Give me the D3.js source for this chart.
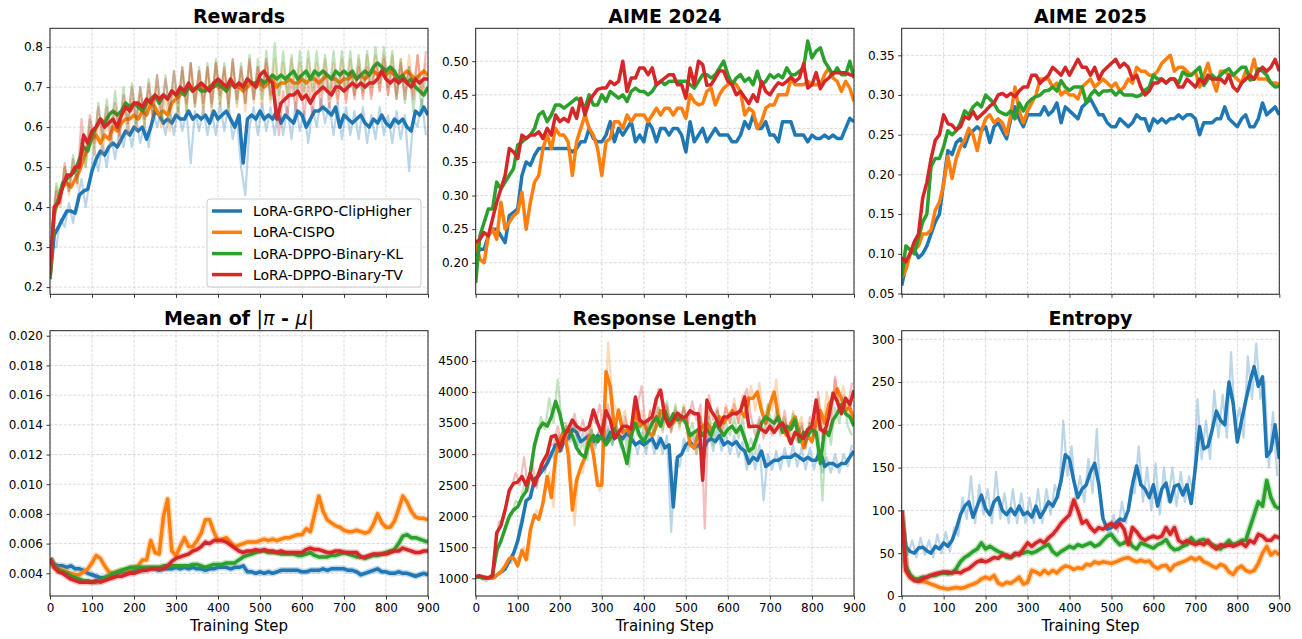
<!DOCTYPE html>
<html>
<head>
<meta charset="utf-8">
<script src="https://cdn.jsdelivr.net/npm/d3@7"></script>
<style>
  html, body { margin: 0; padding: 0; background: #fff; }
  svg { display: block; font-family: "DejaVu Sans", sans-serif; }
</style>
</head>
<body>
<div id="chart"></div>
<script>
var methods = ["LoRA-GRPO-ClipHigher", "LoRA-CISPO", "LoRA-DPPO-Binary-KL", "LoRA-DPPO-Binary-TV"];
var colors = ["#1f77b4", "#ff7f0e", "#2ca02c", "#d62728"];
var steps = d3.range(0, 901, 10);
var rawSteps = d3.range(5, 900, 10);
var xTicks = [0, 100, 200, 300, 400, 500, 600, 700, 800, 900];

// ---- Rewards (smoothed every 10 steps) ----
var rewardsClip = [0.22,0.33,0.35,0.37,0.39,0.39,0.385,0.43,0.44,0.445,
  0.49,0.52,0.54,0.53,0.55,0.56,0.55,0.57,0.59,0.58,
  0.60,0.59,0.60,0.57,0.60,0.64,0.63,0.61,0.62,0.61,
  0.63,0.62,0.62,0.64,0.62,0.63,0.62,0.63,0.61,0.64,
  0.62,0.63,0.64,0.62,0.60,0.63,0.51,0.62,0.63,0.62,
  0.64,0.62,0.63,0.62,0.64,0.61,0.63,0.62,0.61,0.64,
  0.63,0.60,0.62,0.64,0.64,0.65,0.64,0.63,0.65,0.60,
  0.63,0.62,0.61,0.62,0.63,0.61,0.60,0.62,0.61,0.63,
  0.61,0.60,0.62,0.61,0.62,0.60,0.59,0.64,0.63,0.65,0.63];
var rewardsCispo = [0.23,0.38,0.42,0.45,0.46,0.45,0.47,0.49,0.52,0.55,
  0.57,0.58,0.56,0.58,0.57,0.60,0.59,0.61,0.62,0.62,
  0.63,0.62,0.64,0.63,0.66,0.65,0.63,0.64,0.63,0.66,
  0.67,0.68,0.69,0.70,0.69,0.70,0.70,0.69,0.70,0.71,
  0.70,0.70,0.69,0.71,0.70,0.70,0.69,0.70,0.71,0.70,
  0.71,0.70,0.71,0.72,0.70,0.71,0.71,0.72,0.71,0.71,
  0.72,0.71,0.72,0.72,0.71,0.72,0.73,0.72,0.72,0.71,
  0.72,0.72,0.73,0.72,0.73,0.72,0.73,0.74,0.73,0.74,
  0.73,0.74,0.73,0.72,0.73,0.74,0.73,0.72,0.73,0.74,0.73];
var rewardsKl = [0.22,0.39,0.42,0.46,0.47,0.48,0.49,0.52,0.55,0.54,
  0.58,0.60,0.62,0.61,0.63,0.64,0.63,0.64,0.66,0.65,
  0.66,0.65,0.64,0.66,0.67,0.68,0.66,0.68,0.67,0.69,
  0.68,0.69,0.68,0.70,0.69,0.70,0.69,0.69,0.70,0.70,
  0.71,0.70,0.69,0.71,0.70,0.71,0.70,0.72,0.71,0.71,
  0.72,0.71,0.72,0.73,0.72,0.73,0.72,0.73,0.74,0.72,
  0.73,0.74,0.72,0.74,0.73,0.74,0.73,0.72,0.74,0.73,
  0.74,0.73,0.74,0.72,0.73,0.74,0.73,0.75,0.76,0.75,
  0.74,0.75,0.74,0.72,0.73,0.71,0.72,0.70,0.69,0.68,0.70];
var rewardsTv = [0.23,0.40,0.41,0.45,0.48,0.48,0.50,0.50,0.58,0.56,
  0.59,0.60,0.62,0.60,0.61,0.62,0.60,0.63,0.65,0.64,
  0.66,0.66,0.65,0.67,0.66,0.68,0.67,0.68,0.67,0.69,
  0.68,0.70,0.69,0.71,0.69,0.70,0.71,0.70,0.69,0.71,
  0.72,0.71,0.70,0.72,0.70,0.71,0.70,0.72,0.71,0.70,
  0.73,0.74,0.72,0.71,0.62,0.66,0.67,0.68,0.68,0.69,
  0.67,0.68,0.66,0.68,0.69,0.70,0.69,0.68,0.70,0.70,
  0.69,0.70,0.71,0.70,0.71,0.70,0.71,0.71,0.72,0.74,
  0.72,0.71,0.72,0.71,0.72,0.71,0.70,0.72,0.71,0.72,0.72];

// ---- Rewards (raw, steps 5..895) ----
var rewardsClipRaw = [0.30,0.30,0.37,0.35,0.41,0.36,0.42,0.47,0.40,0.47,
  0.55,0.49,0.56,0.50,0.58,0.52,0.59,0.55,0.61,0.55,
  0.62,0.56,0.61,0.55,0.64,0.60,0.64,0.58,0.64,0.58,
  0.65,0.59,0.64,0.51,0.64,0.59,0.65,0.58,0.64,0.58,
  0.66,0.59,0.66,0.57,0.62,0.50,0.43,0.60,0.65,0.58,
  0.66,0.59,0.65,0.58,0.66,0.58,0.65,0.57,0.66,0.59,
  0.64,0.56,0.65,0.60,0.67,0.61,0.66,0.58,0.66,0.57,
  0.65,0.58,0.64,0.57,0.65,0.56,0.63,0.57,0.65,0.58,
  0.63,0.56,0.64,0.57,0.63,0.49,0.62,0.60,0.67,0.58];
var rewardsCispoRaw = [0.32,0.45,0.40,0.50,0.43,0.50,0.45,0.56,0.50,0.60,
  0.53,0.62,0.53,0.62,0.55,0.64,0.56,0.66,0.58,0.67,
  0.59,0.68,0.60,0.69,0.62,0.70,0.60,0.68,0.59,0.70,
  0.63,0.74,0.64,0.76,0.65,0.74,0.63,0.75,0.64,0.76,
  0.65,0.74,0.64,0.76,0.65,0.74,0.64,0.76,0.66,0.75,
  0.65,0.76,0.66,0.77,0.66,0.76,0.67,0.77,0.66,0.76,
  0.67,0.77,0.67,0.76,0.68,0.77,0.67,0.76,0.67,0.77,
  0.67,0.77,0.68,0.77,0.68,0.78,0.68,0.78,0.69,0.78,
  0.68,0.78,0.68,0.77,0.69,0.78,0.68,0.78,0.69,0.76];
var rewardsKlRaw = [0.33,0.46,0.42,0.50,0.44,0.53,0.46,0.57,0.50,0.62,
  0.55,0.66,0.57,0.67,0.59,0.69,0.59,0.70,0.61,0.71,
  0.61,0.70,0.61,0.72,0.63,0.73,0.62,0.73,0.63,0.74,
  0.64,0.75,0.64,0.76,0.65,0.75,0.65,0.76,0.65,0.77,
  0.66,0.76,0.65,0.77,0.66,0.76,0.66,0.78,0.67,0.77,
  0.67,0.79,0.67,0.81,0.68,0.79,0.68,0.78,0.68,0.79,
  0.69,0.79,0.69,0.79,0.69,0.78,0.68,0.79,0.69,0.79,
  0.69,0.79,0.68,0.78,0.69,0.79,0.70,0.80,0.71,0.80,
  0.70,0.79,0.67,0.77,0.66,0.75,0.64,0.73,0.65,0.73];
var rewardsTvRaw = [0.35,0.44,0.41,0.51,0.44,0.52,0.46,0.62,0.53,0.63,
  0.56,0.65,0.58,0.65,0.57,0.66,0.58,0.68,0.61,0.70,
  0.62,0.70,0.62,0.71,0.63,0.73,0.64,0.72,0.64,0.74,
  0.66,0.75,0.66,0.76,0.66,0.74,0.66,0.75,0.66,0.76,
  0.68,0.75,0.66,0.77,0.67,0.75,0.66,0.77,0.67,0.75,
  0.69,0.77,0.68,0.70,0.58,0.69,0.63,0.72,0.64,0.73,
  0.63,0.71,0.63,0.73,0.65,0.74,0.65,0.73,0.66,0.74,
  0.66,0.74,0.67,0.75,0.67,0.75,0.67,0.76,0.69,0.77,
  0.68,0.75,0.67,0.76,0.67,0.75,0.67,0.78,0.68,0.79];

// ---- AIME 2024 ----
var aime24Clip = [0.21,0.22,0.22,0.24,0.25,0.25,0.24,0.23,0.27,0.275,
  0.28,0.33,0.35,0.345,0.36,0.37,0.37,0.37,0.37,0.37,
  0.37,0.37,0.37,0.365,0.37,0.38,0.38,0.40,0.385,0.38,
  0.38,0.39,0.41,0.38,0.40,0.39,0.40,0.41,0.38,0.39,
  0.38,0.41,0.40,0.38,0.40,0.40,0.39,0.40,0.40,0.39,
  0.365,0.41,0.38,0.39,0.40,0.38,0.39,0.40,0.39,0.39,
  0.39,0.38,0.38,0.39,0.41,0.40,0.42,0.40,0.40,0.41,
  0.39,0.39,0.38,0.41,0.41,0.41,0.39,0.39,0.39,0.38,
  0.39,0.385,0.385,0.39,0.385,0.39,0.385,0.385,0.40,0.415,0.41];
var aime24Cispo = [0.23,0.205,0.20,0.24,0.25,0.235,0.29,0.25,0.26,0.27,
  0.275,0.305,0.25,0.29,0.32,0.33,0.37,0.39,0.37,0.40,
  0.39,0.39,0.38,0.33,0.38,0.40,0.42,0.40,0.39,0.37,
  0.33,0.38,0.385,0.41,0.41,0.40,0.42,0.41,0.42,0.42,
  0.42,0.41,0.42,0.43,0.42,0.43,0.43,0.42,0.43,0.43,
  0.415,0.45,0.44,0.435,0.437,0.455,0.46,0.435,0.45,0.46,
  0.465,0.47,0.465,0.455,0.42,0.43,0.425,0.40,0.41,0.43,
  0.435,0.435,0.45,0.45,0.45,0.474,0.465,0.465,0.465,0.47,
  0.465,0.465,0.465,0.48,0.49,0.475,0.47,0.455,0.47,0.46,0.44];
var aime24Kl = [0.17,0.24,0.26,0.28,0.28,0.32,0.31,0.32,0.33,0.34,
  0.375,0.38,0.385,0.39,0.40,0.42,0.425,0.41,0.42,0.435,
  0.435,0.43,0.435,0.44,0.445,0.44,0.43,0.45,0.435,0.435,
  0.45,0.44,0.455,0.45,0.445,0.45,0.44,0.455,0.46,0.455,
  0.455,0.45,0.455,0.465,0.47,0.465,0.47,0.47,0.47,0.47,
  0.47,0.465,0.46,0.47,0.48,0.48,0.475,0.48,0.49,0.50,
  0.48,0.465,0.475,0.48,0.47,0.475,0.465,0.485,0.465,0.47,
  0.48,0.475,0.48,0.475,0.49,0.48,0.48,0.485,0.49,0.53,
  0.505,0.515,0.52,0.50,0.49,0.48,0.49,0.48,0.48,0.50,0.475];
var aime24Tv = [0.23,0.235,0.245,0.24,0.265,0.29,0.31,0.33,0.37,0.365,
  0.355,0.39,0.385,0.39,0.39,0.395,0.385,0.40,0.39,0.42,
  0.41,0.415,0.41,0.43,0.415,0.445,0.42,0.44,0.45,0.458,
  0.46,0.46,0.47,0.465,0.47,0.50,0.455,0.475,0.475,0.49,
  0.49,0.48,0.49,0.465,0.47,0.475,0.48,0.48,0.465,0.465,
  0.445,0.49,0.465,0.50,0.495,0.464,0.465,0.475,0.486,0.485,
  0.47,0.465,0.45,0.455,0.446,0.437,0.45,0.44,0.47,0.455,
  0.45,0.46,0.468,0.465,0.47,0.476,0.47,0.475,0.496,0.46,
  0.465,0.483,0.459,0.47,0.475,0.483,0.483,0.483,0.483,0.48,0.479];

// ---- AIME 2025 ----
var aime25Clip = [0.06,0.085,0.10,0.105,0.095,0.10,0.11,0.125,0.14,0.15,
  0.19,0.23,0.225,0.24,0.245,0.235,0.25,0.255,0.26,0.255,
  0.26,0.24,0.26,0.265,0.255,0.245,0.27,0.285,0.27,0.26,
  0.275,0.275,0.275,0.275,0.285,0.275,0.28,0.29,0.265,0.285,
  0.28,0.275,0.27,0.285,0.29,0.295,0.285,0.275,0.275,0.265,
  0.26,0.26,0.27,0.265,0.26,0.265,0.275,0.27,0.27,0.255,
  0.27,0.265,0.27,0.265,0.27,0.27,0.275,0.27,0.275,0.275,
  0.27,0.25,0.265,0.265,0.265,0.27,0.27,0.285,0.27,0.265,
  0.26,0.27,0.275,0.26,0.26,0.27,0.29,0.275,0.28,0.285,0.275];
var aime25Cispo = [0.07,0.08,0.10,0.105,0.11,0.125,0.125,0.13,0.155,0.165,
  0.187,0.223,0.195,0.22,0.235,0.243,0.258,0.25,0.23,0.255,
  0.27,0.275,0.265,0.27,0.265,0.25,0.275,0.31,0.28,0.265,
  0.28,0.29,0.30,0.32,0.32,0.32,0.31,0.315,0.30,0.305,
  0.30,0.30,0.295,0.31,0.315,0.32,0.31,0.315,0.32,0.315,
  0.31,0.315,0.305,0.31,0.32,0.315,0.335,0.33,0.33,0.325,
  0.325,0.33,0.34,0.345,0.35,0.33,0.335,0.335,0.33,0.325,
  0.33,0.31,0.325,0.34,0.32,0.305,0.33,0.33,0.325,0.325,
  0.32,0.315,0.33,0.325,0.345,0.32,0.32,0.32,0.315,0.315,0.314];
var aime25Kl = [0.07,0.11,0.105,0.10,0.12,0.14,0.15,0.21,0.22,0.22,
  0.235,0.255,0.25,0.255,0.265,0.28,0.275,0.285,0.29,0.285,
  0.30,0.295,0.289,0.28,0.277,0.275,0.28,0.27,0.29,0.28,
  0.29,0.295,0.298,0.30,0.305,0.306,0.31,0.305,0.318,0.31,
  0.306,0.31,0.31,0.31,0.29,0.30,0.306,0.30,0.305,0.305,
  0.306,0.30,0.305,0.30,0.30,0.30,0.298,0.30,0.306,0.31,
  0.325,0.32,0.32,0.315,0.32,0.32,0.315,0.329,0.325,0.325,
  0.33,0.335,0.312,0.32,0.325,0.32,0.325,0.33,0.333,0.325,
  0.33,0.335,0.335,0.319,0.32,0.333,0.33,0.325,0.315,0.31,0.311];
var aime25Tv = [0.095,0.09,0.10,0.115,0.125,0.17,0.19,0.22,0.243,0.25,
  0.275,0.264,0.262,0.256,0.26,0.273,0.27,0.279,0.27,0.275,
  0.28,0.286,0.29,0.30,0.302,0.298,0.302,0.298,0.305,0.31,
  0.31,0.325,0.325,0.315,0.32,0.325,0.335,0.33,0.325,0.335,
  0.325,0.335,0.345,0.335,0.335,0.325,0.335,0.32,0.33,0.335,
  0.34,0.345,0.335,0.34,0.335,0.32,0.325,0.31,0.30,0.305,
  0.315,0.315,0.32,0.315,0.32,0.32,0.31,0.31,0.32,0.315,
  0.31,0.32,0.315,0.325,0.32,0.32,0.32,0.315,0.325,0.31,
  0.305,0.315,0.32,0.325,0.32,0.33,0.335,0.33,0.335,0.345,0.33];

// ---- Mean of |pi - mu| ----
var gapClip = [0.0050,0.0046,0.0045,0.0045,0.0044,0.0045,0.0043,0.0043,0.0042,0.0040,
  0.0039,0.0038,0.0037,0.0037,0.0038,0.0039,0.0040,0.0041,0.0041,0.0042,
  0.0042,0.0042,0.0042,0.0043,0.0043,0.0043,0.0042,0.0043,0.0043,0.0043,
  0.0044,0.0043,0.0044,0.0043,0.0044,0.0043,0.0043,0.0042,0.0043,0.0043,
  0.0044,0.0044,0.0044,0.0043,0.0044,0.0044,0.0045,0.0041,0.0041,0.0040,
  0.0041,0.0040,0.0041,0.0040,0.0041,0.0042,0.0042,0.0042,0.0042,0.0042,
  0.0041,0.0041,0.0042,0.0042,0.0042,0.0043,0.0042,0.0043,0.0043,0.0043,
  0.0043,0.0042,0.0042,0.0041,0.0039,0.0040,0.0041,0.0042,0.0043,0.0041,
  0.0041,0.0040,0.0040,0.0041,0.0040,0.0040,0.0039,0.0038,0.0039,0.0040,0.0039];
var gapCispo = [0.0050,0.0044,0.0043,0.0042,0.0041,0.0040,0.0039,0.0039,0.0041,0.0043,
  0.0047,0.0052,0.0050,0.0045,0.0041,0.0040,0.0041,0.0042,0.0042,0.0043,
  0.0044,0.0045,0.0049,0.0049,0.0062,0.0054,0.0053,0.0078,0.0090,0.0055,
  0.0052,0.0058,0.0064,0.0058,0.0058,0.0062,0.0067,0.0076,0.0076,0.0068,
  0.0062,0.0063,0.0064,0.0061,0.0058,0.0059,0.0060,0.0061,0.0061,0.0061,
  0.0062,0.0063,0.0062,0.0063,0.0062,0.0063,0.0064,0.0064,0.0065,0.0066,
  0.0066,0.0070,0.0068,0.0080,0.0092,0.0082,0.0076,0.0074,0.0072,0.0071,
  0.0069,0.0068,0.0068,0.0069,0.0068,0.0067,0.0068,0.0073,0.0080,0.0074,
  0.0071,0.0071,0.0075,0.0083,0.0092,0.0088,0.0082,0.0078,0.0077,0.0077,0.0076];
var gapKl = [0.0050,0.0045,0.0042,0.0041,0.0040,0.0038,0.0037,0.0036,0.0035,0.0035,
  0.0034,0.0034,0.0035,0.0037,0.0038,0.0040,0.0041,0.0042,0.0043,0.0044,
  0.0044,0.0044,0.0044,0.0044,0.0044,0.0044,0.0044,0.0045,0.0045,0.0045,
  0.0045,0.0045,0.0045,0.0045,0.0046,0.0046,0.0045,0.0044,0.0045,0.0046,
  0.0046,0.0046,0.0047,0.0047,0.0047,0.0049,0.0051,0.0052,0.0053,0.0054,
  0.0055,0.0055,0.0054,0.0054,0.0054,0.0053,0.0053,0.0053,0.0053,0.0052,
  0.0052,0.0053,0.0054,0.0052,0.0051,0.0051,0.0051,0.0052,0.0052,0.0053,
  0.0054,0.0053,0.0052,0.0051,0.0051,0.0050,0.0051,0.0052,0.0052,0.0053,
  0.0054,0.0055,0.0056,0.0060,0.0065,0.0066,0.0064,0.0064,0.0063,0.0062,0.0061];
var gapTv = [0.0050,0.0044,0.0041,0.0040,0.0038,0.0036,0.0035,0.0034,0.0034,0.0034,
  0.0034,0.0035,0.0034,0.0035,0.0036,0.0037,0.0038,0.0038,0.0039,0.0040,
  0.0040,0.0041,0.0042,0.0042,0.0043,0.0043,0.0043,0.0043,0.0045,0.0048,
  0.0050,0.0051,0.0052,0.0053,0.0055,0.0056,0.0058,0.0061,0.0060,0.0062,
  0.0062,0.0062,0.0061,0.0059,0.0057,0.0055,0.0054,0.0055,0.0055,0.0056,
  0.0055,0.0056,0.0055,0.0055,0.0054,0.0055,0.0054,0.0054,0.0054,0.0054,
  0.0054,0.0056,0.0057,0.0056,0.0056,0.0055,0.0054,0.0054,0.0055,0.0055,
  0.0054,0.0054,0.0054,0.0054,0.0051,0.0051,0.0052,0.0053,0.0053,0.0053,
  0.0053,0.0054,0.0055,0.0055,0.0057,0.0056,0.0055,0.0054,0.0054,0.0055,0.0055];

// ---- Response Length ----
var lengthClip = [1020,1030,1000,1000,1000,1050,1100,1150,1280,1400,
  1600,1900,2250,2300,2600,2650,2750,2850,3000,3150,
  3050,3200,3250,3400,3350,3200,3250,3300,3200,3300,
  3250,3200,3350,3250,3300,3250,3350,3250,3150,3200,
  3150,3200,3250,3100,3250,3100,3150,2150,2950,3000,
  3150,3200,3100,3150,3050,3200,3250,3200,3300,3150,
  3200,3150,3200,3100,3050,2850,2950,2900,3050,2800,
  2850,2900,2900,2950,2950,2950,3000,2950,2900,2950,
  2900,2900,3050,2800,2850,2850,2800,2850,2850,2950,3050];
var lengthCispo = [1020,1020,1000,1000,1000,1050,1100,1200,1320,1330,
  1200,1450,1300,1780,2020,1950,2210,2640,2300,2960,
  3230,3390,3000,2100,2580,2790,2950,3300,3000,2500,
  2500,4330,4090,3400,3710,3350,3400,3300,3700,3450,
  3500,3350,3300,3450,3700,3600,3450,3500,3600,3550,
  3600,3150,3100,3350,3450,3500,3400,3450,3600,3500,
  3600,3700,3650,3700,3600,3900,3900,4000,3700,3500,
  3800,4000,3600,3400,3300,3500,3600,3350,3100,3300,
  3200,3500,3700,3500,3800,3900,4050,3900,3700,3750,3550];
var lengthKl = [1020,1020,1000,1000,1050,1450,1600,1800,2000,2100,
  2150,2300,2400,2700,3150,3400,3500,3450,3600,3850,
  3650,3350,3400,3300,3100,3000,2950,3200,3300,3200,
  3300,3150,3250,3400,3300,3100,2850,3300,3500,3300,
  3200,3350,3500,3600,3450,3700,3500,3650,3550,3600,
  3500,3300,3350,3400,3300,3400,3300,3500,3400,3300,
  3400,3450,3350,3450,3250,3050,3100,3300,3500,3600,
  3550,3500,3600,3350,3450,3400,3550,3200,3350,3300,
  3400,3350,2850,3400,3300,3550,3650,3800,3650,3600,3450];
var lengthTv = [1030,1040,1020,1010,1030,1730,1850,2100,2420,2530,
  2550,2640,2500,2690,2500,2700,2880,3000,3280,3300,
  3100,3280,3400,3550,3450,3400,3390,3450,3710,3500,
  3330,3700,3550,3250,3350,3450,3450,3400,3920,3550,
  3500,3550,3600,3900,4030,3600,3450,3550,3660,3600,
  3600,3700,3650,3650,2580,3870,3700,3600,3450,3600,
  3600,3650,3650,3700,3920,3440,3450,3450,3400,3350,
  3450,3350,3450,3500,3350,3170,3350,3300,3250,3400,
  3450,3870,3400,3350,3600,3980,3850,3650,3900,3800,4030];

var lengthClipRaw = [1050,1000,950,1020,1000,1080,1100,1250,1250,1500,
  1850,2100,2300,2450,2500,2850,2700,3050,2950,3300,
  3050,3350,3200,3500,3150,3350,3100,3400,3100,3400,
  3100,3450,3150,3400,3100,3450,3100,3300,3000,3350,
  3000,3350,3000,3300,3000,3300,1750,2900,2800,3250,
  3050,3350,3000,3250,2950,3350,3050,3400,3050,3350,
  3000,3300,2950,3200,2750,3100,2750,3150,2250,3000,
  2750,3050,2750,3100,2800,3150,2800,3100,2750,3100,
  2750,3100,2700,2950,2700,3000,2700,3000,2800,3150];
var lengthCispoRaw = [1000,1050,980,1050,1000,1100,1150,1250,1350,1300,
  1350,1500,1300,1900,2100,2000,2400,2700,2150,3100,
  3300,3450,2900,1850,2700,2700,3100,3500,2800,2400,
  3000,4800,3900,3700,3500,3700,3200,3600,3500,3700,
  3300,3700,3300,3750,3400,3800,3350,3750,3400,3800,
  3300,3350,3000,3600,3300,3700,3300,3700,3350,3800,
  3500,3900,3500,3950,3550,4100,3700,4150,3500,3800,
  3700,4200,3500,3600,3200,3700,3400,3600,3100,3500,
  3300,3900,3400,4000,3650,4200,3800,4100,3600,3800];
var lengthKlRaw = [1050,980,1020,1000,1200,1500,1700,1950,2000,2250,
  2200,2500,2500,3000,3200,3600,3400,3900,3500,4200,
  3500,3500,3250,3450,3000,3200,2900,3400,3150,3450,
  3200,3400,3150,3500,3150,3300,2800,3500,3300,3500,
  3100,3550,3300,3750,3350,3850,3400,3800,3450,3750,
  3300,3500,3200,3600,3200,3600,3150,3700,3250,3500,
  3300,3600,3250,3600,3050,3250,3000,3550,3350,3800,
  3400,3700,3400,3550,3250,3650,3300,3450,3150,3500,
  3250,3450,2250,3550,3150,3750,3500,3950,3450,3300];
var lengthTvRaw = [1050,1000,1020,1000,1300,1900,1950,2300,2450,2700,
  2500,2950,2400,2850,2450,2850,2750,3150,3150,3450,
  3050,3450,3300,3650,3300,3550,3250,3600,3500,3800,
  3200,3800,3400,3450,3250,3600,3300,3600,3800,4100,
  3350,3700,3450,4050,3850,3750,3350,3700,3500,3750,
  3500,3850,3550,3800,1800,3950,3550,3750,3350,3750,
  3500,3800,3500,3850,4050,3600,3300,3600,3250,3550,
  3300,3600,3300,3700,3200,3350,3200,3500,3100,3600,
  3300,4000,3250,3500,3450,4250,3700,3850,3750,4150];

// ---- Entropy ----
var entropyClip = [100,58,52,50,56,57,53,50,58,55,
  62,58,65,78,95,105,110,92,105,118,
  102,95,110,115,100,95,102,95,105,95,
  98,92,105,92,100,110,105,115,135,165,
  160,135,115,125,130,145,155,130,90,78,
  80,85,90,88,100,130,152,130,125,115,
  130,105,125,132,110,128,130,118,130,108,
  150,198,172,175,194,216,205,200,250,225,
  180,205,228,250,268,245,256,163,170,200,160];
var entropyCispo = [95,30,22,20,18,17,16,14,12,10,
  9,8,9,10,9,10,12,14,16,20,
  22,20,24,15,13,16,15,18,22,14,
  16,30,28,25,30,26,30,27,32,35,
  34,31,33,32,37,36,40,38,40,39,
  38,40,42,44,45,42,40,42,40,41,
  35,32,35,36,30,36,38,40,42,45,
  42,45,40,38,35,33,37,35,28,25,
  32,35,30,28,30,38,50,58,48,52,48];
var entropyKl = [100,35,25,20,20,22,22,24,24,26,
  27,26,27,32,40,45,48,52,55,62,
  55,58,55,52,50,45,45,48,50,50,
  52,50,52,55,58,60,52,48,52,55,
  58,56,60,58,60,62,58,60,65,70,
  72,65,60,62,66,58,55,62,60,58,
  56,60,62,66,58,54,55,58,60,68,
  62,65,66,62,60,58,55,60,65,60,
  62,65,65,80,95,110,105,135,115,105,102];
var entropyTv = [100,30,22,18,17,20,22,24,26,27,
  28,28,27,28,27,30,32,36,40,42,
  40,42,45,44,48,48,45,50,48,55,
  62,58,62,65,62,68,72,78,85,90,
  95,112,100,85,88,80,75,80,78,82,
  85,80,85,78,60,80,75,68,65,68,
  70,68,70,80,72,80,65,62,65,62,
  60,62,60,65,58,55,60,58,60,58,
  60,62,58,65,62,72,70,65,65,70,68];
var entropyClipRaw = [80,48,65,45,68,48,65,45,72,50,
  75,52,80,70,115,90,140,85,130,95,
  125,85,145,90,120,85,125,85,120,85,
  115,85,125,85,125,95,130,115,205,140,
  175,110,140,110,160,120,195,95,85,70,
  95,75,110,85,125,120,175,110,150,100,
  155,95,150,110,150,105,145,110,140,120,
  230,160,205,160,240,185,235,185,285,195,
  220,185,280,230,295,230,250,150,215,140];

var rewardsTicks = [0.2, 0.3, 0.4, 0.5, 0.6, 0.7, 0.8];
var aime24Ticks = [0.20, 0.25, 0.30, 0.35, 0.40, 0.45, 0.50];
var aime25Ticks = [0.05, 0.10, 0.15, 0.20, 0.25, 0.30, 0.35];
var gapTicks = [0.004, 0.006, 0.008, 0.010, 0.012, 0.014, 0.016, 0.018, 0.020];
var lengthTicks = [1000, 1500, 2000, 2500, 3000, 3500, 4000, 4500];
var entropyTicks = [0, 50, 100, 150, 200, 250, 300];

var cols = [[50, 428], [475.7, 854], [901.7, 1279.3]];
var rows = [[28.3, 294.3], [330.7, 596]];

var panels = [
  {title: "Rewards", col: 0, row: 0, yDomain: [0.182, 0.847], yTicks: rewardsTicks, fmt: ".1f",
   smooth: [rewardsClip, rewardsCispo, rewardsKl, rewardsTv],
   raw: [rewardsClipRaw, rewardsCispoRaw, rewardsKlRaw, rewardsTvRaw], faint: true, legend: true},
  {title: "AIME 2024", col: 1, row: 0, yDomain: [0.153, 0.549], yTicks: aime24Ticks, fmt: ".2f",
   smooth: [aime24Clip, aime24Cispo, aime24Kl, aime24Tv], raw: [null, null, null, null], faint: false},
  {title: "AIME 2025", col: 2, row: 0, yDomain: [0.049, 0.384], yTicks: aime25Ticks, fmt: ".2f",
   smooth: [aime25Clip, aime25Cispo, aime25Kl, aime25Tv], raw: [null, null, null, null], faint: false},
  {title: "Mean of |π - μ|", col: 0, row: 1, yDomain: [0.00247, 0.02034], yTicks: gapTicks, fmt: ".3f",
   smooth: [gapClip, gapCispo, gapKl, gapTv], raw: [null, null, null, null], faint: true, math: true},
  {title: "Response Length", col: 1, row: 1, yDomain: [715, 4988], yTicks: lengthTicks, fmt: "d",
   smooth: [lengthClip, lengthCispo, lengthKl, lengthTv],
   raw: [lengthClipRaw, lengthCispoRaw, lengthKlRaw, lengthTvRaw], faint: true},
  {title: "Entropy", col: 2, row: 1, yDomain: [0, 310], yTicks: entropyTicks, fmt: "d",
   smooth: [entropyClip, entropyCispo, entropyKl, entropyTv],
   raw: [entropyClipRaw, null, null, null], faint: true}
];

var svg = d3.select("#chart").append("svg")
  .attr("width", 1302)
  .attr("height", 639);

panels.forEach(function (p, pi) {
  var x0 = cols[p.col][0], x1 = cols[p.col][1];
  var y0 = rows[p.row][0], y1 = rows[p.row][1];
  var x = d3.scaleLinear().domain([0, 900]).range([x0, x1]);
  var y = d3.scaleLinear().domain(p.yDomain).range([y1, y0]);
  var g = svg.append("g");

  // grid
  g.selectAll(".gx").data(xTicks).enter().append("line")
    .attr("x1", function (d) { return x(d); })
    .attr("x2", function (d) { return x(d); })
    .attr("y1", y0).attr("y2", y1)
    .attr("stroke", "#b0b0b0").attr("stroke-opacity", 0.6)
    .attr("stroke-width", 0.8).attr("stroke-dasharray", "3,1.6");
  g.selectAll(".gy").data(p.yTicks).enter().append("line")
    .attr("x1", x0).attr("x2", x1)
    .attr("y1", function (d) { return y(d); })
    .attr("y2", function (d) { return y(d); })
    .attr("stroke", "#b0b0b0").attr("stroke-opacity", 0.6)
    .attr("stroke-width", 0.8).attr("stroke-dasharray", "3,1.6");

  svg.append("clipPath").attr("id", "clip" + pi)
    .append("rect").attr("x", x0).attr("y", y0)
    .attr("width", x1 - x0).attr("height", y1 - y0);

  var plot = g.append("g").attr("clip-path", "url(#clip" + pi + ")");

  var smoothLine = d3.line()
    .x(function (d, i) { return x(steps[i]); })
    .y(function (d) { return y(d); });
  var rawLine = d3.line()
    .x(function (d, i) { return x(rawSteps[i]); })
    .y(function (d) { return y(d); });

  p.smooth.forEach(function (vals, k) {
    if (p.faint) {
      if (p.raw[k]) {
        plot.append("path")
          .attr("d", rawLine(p.raw[k]))
          .attr("fill", "none")
          .attr("stroke", colors[k])
          .attr("stroke-opacity", 0.3)
          .attr("stroke-width", 2.2)
          .attr("stroke-linejoin", "round");
      } else {
        plot.append("path")
          .attr("d", smoothLine(vals))
          .attr("fill", "none")
          .attr("stroke", colors[k])
          .attr("stroke-opacity", 0.28)
          .attr("stroke-width", 6.5)
          .attr("stroke-linejoin", "round");
      }
    }
    plot.append("path")
      .attr("d", smoothLine(vals))
      .attr("fill", "none")
      .attr("stroke", colors[k])
      .attr("stroke-width", 3.5)
      .attr("stroke-linejoin", "round")
      .attr("stroke-linecap", "butt");
  });

  // axes
  var yAxis = d3.axisLeft(y).tickValues(p.yTicks)
    .tickFormat(d3.format(p.fmt)).tickSizeOuter(0).tickSize(3.5).tickPadding(3.5);
  var xAxis = d3.axisBottom(x).tickValues(xTicks).tickSizeOuter(0).tickSize(3.5).tickPadding(3.5);
  if (p.row === 0) xAxis.tickFormat("");

  var ya = g.append("g").attr("transform", "translate(" + x0 + ",0)").call(yAxis);
  var xa = g.append("g").attr("transform", "translate(0," + y1 + ")").call(xAxis);
  [ya, xa].forEach(function (a) {
    a.select(".domain").remove();
    a.selectAll("line").attr("stroke", "#222").attr("stroke-width", 0.9);
    a.selectAll("text").attr("fill", "#000")
      .style("font-size", "12px").style("font-family", "DejaVu Sans, sans-serif");
  });

  // spines
  g.append("rect")
    .attr("x", x0).attr("y", y0)
    .attr("width", x1 - x0).attr("height", y1 - y0)
    .attr("fill", "none").attr("stroke", "#222").attr("stroke-width", 1);

  // title
  var cx = (x0 + x1) / 2;
  var ty = p.row === 0 ? 23 : 325;
  var t = g.append("text")
    .attr("x", cx).attr("y", ty)
    .attr("text-anchor", "middle")
    .style("font-size", "19px")
    .style("font-weight", "bold");
  if (p.math) {
    t.append("tspan").text("Mean of ");
    t.append("tspan").style("font-weight", "normal").text("|");
    t.append("tspan").style("font-weight", "normal").style("font-style", "italic").text("π");
    t.append("tspan").text(" - ");
    t.append("tspan").style("font-weight", "normal").style("font-style", "italic").text("μ");
    t.append("tspan").style("font-weight", "normal").text("|");
  } else {
    t.text(p.title);
  }

  if (p.row === 1) {
    g.append("text")
      .attr("x", cx).attr("y", 631)
      .attr("text-anchor", "middle")
      .style("font-size", "15px")
      .text("Training Step");
  }

  if (p.legend) {
    var lg = g.append("g");
    lg.append("rect")
      .attr("x", 207).attr("y", 199).attr("width", 214).attr("height", 88)
      .attr("rx", 3).attr("fill", "#fff").attr("fill-opacity", 0.8)
      .attr("stroke", "#ccc").attr("stroke-width", 1);
    var rowsY = [211, 232.3, 253.6, 274.6];
    methods.forEach(function (m, k) {
      lg.append("line")
        .attr("x1", 212).attr("x2", 242)
        .attr("y1", rowsY[k]).attr("y2", rowsY[k])
        .attr("stroke", colors[k]).attr("stroke-width", 3.5);
      lg.append("text")
        .attr("x", 253).attr("y", rowsY[k])
        .attr("dy", "0.35em")
        .style("font-size", "14px")
        .text(m);
    });
  }
});
</script>
</body>
</html>
